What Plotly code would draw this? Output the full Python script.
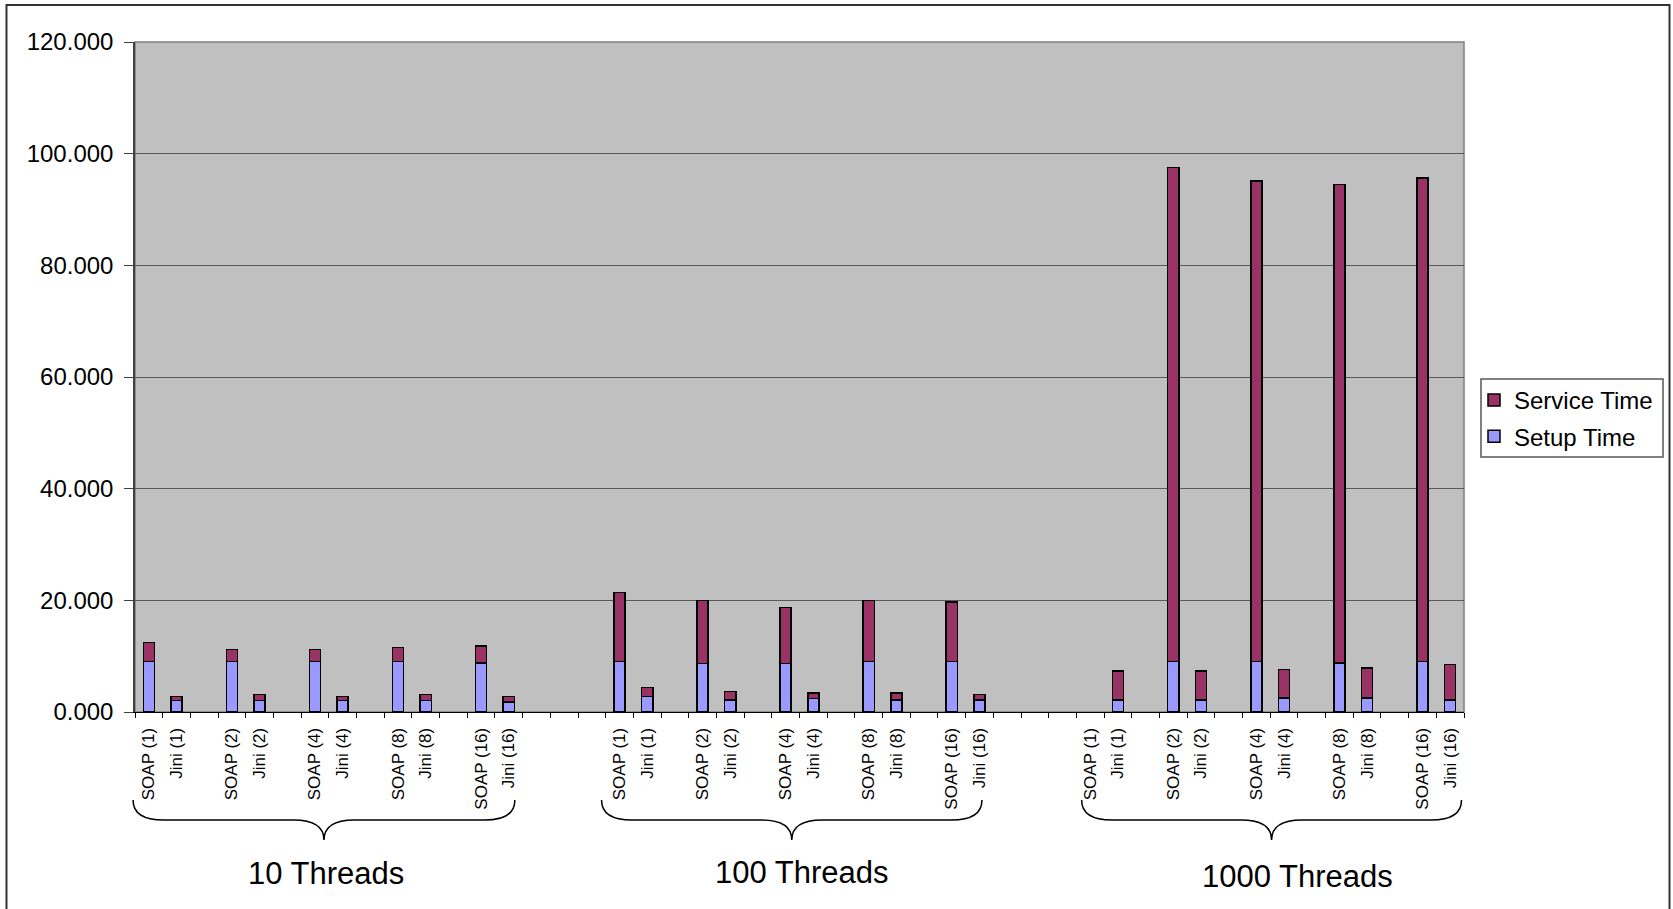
import plotly.graph_objects as go

# ---------------- data ----------------
groups = ["10 Threads", "100 Threads", "1000 Threads"]
nodes = [1, 2, 4, 8, 16]
series_names = ["SOAP", "Jini"]

# setup / service times per group (rows) and node count (columns)
soap_setup = [
    [9.06, 9.06, 9.06, 9.06, 8.78],
    [9.01, 8.71, 8.71, 9.01, 9.01],
    [0.00, 9.06, 9.06, 8.78, 9.06],
]
soap_service = [
    [3.41, 2.15, 2.15, 2.46, 3.04],
    [12.41, 11.28, 10.03, 10.98, 10.69],
    [0.00, 88.43, 86.04, 85.72, 86.59],
]
jini_setup = [
    [2.08, 2.08, 2.08, 2.08, 1.79],
    [2.79, 2.15, 2.44, 2.15, 2.15],
    [2.15, 2.15, 2.51, 2.51, 2.15],
]
jini_service = [
    [0.71, 1.02, 0.71, 1.02, 1.00],
    [1.56, 1.54, 0.96, 1.25, 0.95],
    [5.19, 5.19, 5.07, 5.37, 6.32],
]
y_ticks = [0, 20, 40, 60, 80, 100, 120]

# ---------------- layout constants ----------------
W, H = 1673, 909
L, R, T, B = 135, 209, 42, 197
PW, PH = W - L - R, H - T - B
SLOTS_PER_PAIR = 3          # SOAP, Jini, gap
SLOTS_PER_GROUP = 17        # 5 pairs + 2 extra gap slots
N_SLOTS = 48
XMIN, XMAX = -0.5, N_SLOTS - 0.5
FONT = "Liberation Sans, Arial, sans-serif"

def px_x(px):
    return (px - L) / PW

def px_y(py):
    return (T + PH - py) / PH

def data_x_to_paper(x):
    return (x - XMIN) / (XMAX - XMIN)

# build positions/labels/values
xs, labels, setup, service = [], [], [], []
for g, _ in enumerate(groups):
    for k, n in enumerate(nodes):
        for s, name in enumerate(series_names):
            xs.append(g * SLOTS_PER_GROUP + k * SLOTS_PER_PAIR + s)
            labels.append(f"{name} ({n})")
            if s == 0:
                setup.append(soap_setup[g][k]); service.append(soap_service[g][k])
            else:
                setup.append(jini_setup[g][k]); service.append(jini_service[g][k])

setup_plot = [v if v > 0 else None for v in setup]
service_plot = [v if v > 0 else None for v in service]

fig = go.Figure()
fig.add_bar(x=xs, y=setup_plot, name="Setup Time", width=0.4,
            legendgroup="setup", legendrank=2,
            marker=dict(color="#9999FF", line=dict(color="black", width=1.5)))
fig.add_bar(x=xs, y=service_plot, name="Service Time", width=0.4,
            legendgroup="service", legendrank=1,
            marker=dict(color="#993366", line=dict(color="black", width=1.5)))

shapes = []
# outer chart border
shapes.append(dict(type="rect", xref="paper", yref="paper",
                   x0=px_x(6.5), x1=px_x(1669.5), y0=px_y(930), y1=px_y(5),
                   line=dict(color="#333333", width=2), fillcolor="rgba(0,0,0,0)"))
# plot area border (gray)
shapes.append(dict(type="rect", xref="paper", yref="paper", layer="below",
                   x0=0, x1=1, y0=0, y1=1,
                   line=dict(color="#808080", width=1.5), fillcolor="rgba(0,0,0,0)"))
# legend box
shapes.append(dict(type="rect", xref="paper", yref="paper",
                   x0=px_x(1481), x1=px_x(1663), y0=px_y(457), y1=px_y(379),
                   line=dict(color="#555555", width=1.5), fillcolor="rgba(0,0,0,0)"))

# curly braces under each group
y_top, y_mid, y_bot = px_y(800), px_y(820), px_y(840)
brace_spans = [(-0.57, 13.22), (-0.65, 13.09), (-0.31, 13.41)]
label_offsets = [6.4, 6.6, 7.5]
label_ys = [873, 872, 876]
annotations = []
for g, gname in enumerate(groups):
    start = g * SLOTS_PER_GROUP
    xl = data_x_to_paper(start + brace_spans[g][0])
    xr = data_x_to_paper(start + brace_spans[g][1])
    xm = (xl + xr) / 2
    r = data_x_to_paper(1.1) - data_x_to_paper(0)
    path = (f"M {xl},{y_top} Q {xl},{y_mid} {xl + r},{y_mid} "
            f"L {xm - r},{y_mid} Q {xm},{y_mid} {xm},{y_bot} "
            f"Q {xm},{y_mid} {xm + r},{y_mid} "
            f"L {xr - r},{y_mid} Q {xr},{y_mid} {xr},{y_top}")
    shapes.append(dict(type="path", xref="paper", yref="paper", path=path,
                       line=dict(color="black", width=1.5)))
    annotations.append(dict(text=gname, xref="paper", yref="paper",
                            x=data_x_to_paper(start + label_offsets[g]), y=px_y(label_ys[g]),
                            xanchor="center", yanchor="middle", showarrow=False,
                            font=dict(family=FONT, size=31, color="black")))

fig.update_layout(
    width=W, height=H,
    margin=dict(l=L, r=R, t=T, b=B, pad=0),
    paper_bgcolor="white", plot_bgcolor="#C0C0C0",
    barmode="stack",
    font=dict(family=FONT, color="black"),
    showlegend=True,
    legend=dict(x=px_x(1474), y=px_y(378), xanchor="left", yanchor="top",
                bgcolor="rgba(0,0,0,0)", borderwidth=0,
                font=dict(family=FONT, size=24, color="black"),
                traceorder="grouped", tracegroupgap=2),
    xaxis=dict(range=[XMIN, XMAX], tickmode="array", tickvals=xs, ticktext=labels,
               tickangle=-90, ticks="", showgrid=False, zeroline=False,
               showline=True, linecolor="black", linewidth=1,
               tickfont=dict(family=FONT, size=17, color="black"),
               ticklabelstandoff=8,
               minor=dict(tickmode="linear", tick0=-0.5, dtick=1, ticks="outside",
                          ticklen=5, tickwidth=1, tickcolor="black", showgrid=False)),
    yaxis=dict(range=[0, 120], tickmode="array", tickvals=y_ticks,
               ticktext=[f"{v:.3f}" for v in y_ticks],
               ticks="outside", ticklen=9, tickwidth=1, tickcolor="#404040",
               showline=True, linecolor="#404040", linewidth=1.5,
               showgrid=True, gridcolor="#5a5a5a", gridwidth=1, zeroline=False,
               tickfont=dict(family=FONT, size=24, color="black"),
               ticklabelstandoff=6),
    shapes=shapes,
    annotations=annotations,
)

fig.write_html("out.html")
